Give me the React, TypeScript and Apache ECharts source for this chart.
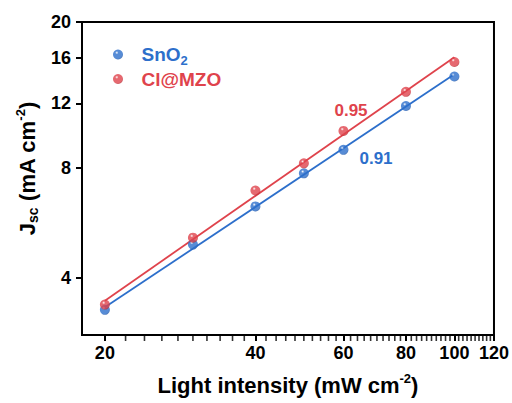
import React, { useEffect, useRef } from "react";
import * as echarts from "echarts";

// Light intensity (mW cm^-2) and short-circuit current density (mA cm^-2)
const intensity = [20, 30, 40, 50, 60, 80, 100];
const jscSnO2 = [3.28, 4.94, 6.28, 7.73, 8.96, 11.8, 14.2];
const jscClMZO = [3.39, 5.16, 6.94, 8.23, 10.09, 12.9, 15.56];

// Fitted power-law exponents (slope in log-log space): SnO2, Cl@MZO
const slopes = [0.91, 0.95];

// Axis ticks
const xMajorTicks = [20, 40, 60, 80, 100, 120];
const xMinorTicks = [
  22, 24, 26, 28, 30, 32, 34, 36, 38,
  42, 44, 46, 48, 50, 52, 54, 56, 58,
  62, 64, 66, 68, 70, 72, 74, 76, 78,
  82, 84, 86, 88, 90, 92, 94, 96, 98,
  102, 104, 106, 108, 110, 112, 114, 116, 118,
];
const yTicks = [4, 8, 12, 16, 20];

const X_MIN = 18;
const X_MAX = 120;
const Y_MIN = 2.8;
const Y_MAX = 20;

const BLUE = "#2d6fcb";
const RED = "#df434c";
const FONT = 'Arial, "Liberation Sans", sans-serif';

// Fit line y = a * x^b with a fixed exponent; intercept by least squares in log space
function fitLine(xs: number[], ys: number[], b: number): number[][] {
  let s = 0;
  for (let i = 0; i < xs.length; i++) s += Math.log10(ys[i]) - b * Math.log10(xs[i]);
  const logA = s / xs.length;
  const x0 = xs[0];
  const x1 = xs[xs.length - 1];
  return [x0, x1].map((x) => [x, Math.pow(10, logA + b * Math.log10(x))]);
}

function sphere(base: string, dark: string) {
  return {
    type: "radial",
    x: 0.38,
    y: 0.32,
    r: 0.75,
    colorStops: [
      { offset: 0, color: "#ffffff" },
      { offset: 0.22, color: base },
      { offset: 0.75, color: base },
      { offset: 1, color: dark },
    ],
  };
}

export default function App() {
  const ref = useRef<HTMLDivElement>(null);

  useEffect(() => {
    if (!ref.current) return;
    const chart = echarts.init(ref.current, undefined, { renderer: "svg" });

    const blueFit = fitLine(intensity, jscSnO2, slopes[0]);
    const redFit = fitLine(intensity, jscClMZO, slopes[1]);

    const tickLabel = { color: "#000", fontFamily: FONT, fontWeight: "bold", fontSize: 18 };
    const titleSup = {
      color: "#000",
      fontFamily: FONT,
      fontWeight: "bold",
      fontSize: 13,
      lineHeight: 13,
      verticalAlign: "top",
    };

    chart.setOption({
      animation: false,
      grid: {
        left: 82,
        right: 17,
        top: 22,
        bottom: 65,
        show: true,
        borderColor: "#000",
        borderWidth: 2,
      },
      legend: {
        orient: "vertical",
        left: 108,
        top: 40,
        itemWidth: 37,
        itemHeight: 10,
        itemGap: 3,
        selectedMode: false,
        data: [{ name: "SnO2" }, { name: "Cl@MZO" }],
        formatter: (name: string) =>
          name === "SnO2" ? "{b|SnO}{bs|2}" : "{r|Cl@MZO}",
        textStyle: {
          fontFamily: FONT,
          rich: {
            b: { color: BLUE, fontSize: 19, fontWeight: "bold", fontFamily: FONT, lineHeight: 24 },
            bs: {
              color: BLUE,
              fontSize: 13,
              fontWeight: "bold",
              fontFamily: FONT,
              lineHeight: 13,
              verticalAlign: "bottom",
            },
            r: { color: RED, fontSize: 19, fontWeight: "bold", fontFamily: FONT, lineHeight: 24 },
          },
        },
      },
      xAxis: {
        type: "log",
        logBase: 10,
        min: X_MIN,
        max: X_MAX,
        position: "bottom",
        splitLine: { show: false },
        axisLine: { lineStyle: { color: "#000", width: 2 } },
        axisTick: { customValues: xMajorTicks, length: 6, lineStyle: { color: "#000", width: 2 } },
        axisLabel: { customValues: xMajorTicks, margin: 9, ...tickLabel },
        name: "Light intensity (mW cm{sup|-2})",
        nameLocation: "middle",
        nameGap: 37,
        nameTextStyle: {
          color: "#000",
          fontFamily: FONT,
          fontWeight: "bold",
          fontSize: 22,
          lineHeight: 26,
          rich: { sup: titleSup },
        },
      },
      yAxis: {
        type: "log",
        logBase: 10,
        min: Y_MIN,
        max: Y_MAX,
        splitLine: { show: false },
        axisLine: { lineStyle: { color: "#000", width: 2 } },
        axisTick: { customValues: yTicks, length: 6, lineStyle: { color: "#000", width: 2 } },
        axisLabel: { customValues: yTicks, margin: 11, ...tickLabel },
        name: "J{sub|sc} (mA cm{sup|-2})",
        nameLocation: "middle",
        nameGap: 38,
        nameTextStyle: {
          color: "#000",
          fontFamily: FONT,
          fontWeight: "bold",
          fontSize: 22,
          lineHeight: 26,
          padding: [0, 0, 0, 20],
          rich: {
            sub: {
              color: "#000",
              fontFamily: FONT,
              fontWeight: "bold",
              fontSize: 14,
              lineHeight: 14,
              verticalAlign: "bottom",
            },
            sup: titleSup,
          },
        },
      },
      series: [
        {
          name: "SnO2 fit",
          type: "line",
          data: blueFit,
          showSymbol: false,
          lineStyle: { color: BLUE, width: 1.8 },
          z: 2,
        },
        {
          name: "Cl@MZO fit",
          type: "line",
          data: redFit,
          showSymbol: false,
          lineStyle: { color: RED, width: 1.8 },
          z: 2,
        },
        {
          name: "SnO2",
          type: "scatter",
          data: intensity.map((x, i) => [x, jscSnO2[i]]),
          symbol: "circle",
          symbolSize: 10,
          itemStyle: { color: sphere(BLUE, "#1d4f9c") },
          z: 3,
        },
        {
          name: "Cl@MZO",
          type: "scatter",
          data: intensity.map((x, i) => [x, jscClMZO[i]]),
          symbol: "circle",
          symbolSize: 10,
          itemStyle: { color: sphere(RED, "#a82a31") },
          z: 3,
        },
        {
          // minor ticks hanging below the bottom axis, every 2 mW cm^-2
          type: "scatter",
          clip: false,
          data: xMinorTicks.map((v) => [v, Y_MIN]),
          symbol: "rect",
          symbolSize: [1.6, 6],
          symbolOffset: [0, 3],
          itemStyle: { color: "#000" },
        },
      ],
      graphic: [
        {
          type: "text",
          x: 351,
          y: 110,
          style: {
            text: slopes[1].toFixed(2),
            fill: RED,
            font: `bold 17px ${FONT}`,
            textAlign: "center",
            textVerticalAlign: "middle",
          },
        },
        {
          type: "text",
          x: 376,
          y: 158,
          style: {
            text: slopes[0].toFixed(2),
            fill: BLUE,
            font: `bold 17px ${FONT}`,
            textAlign: "center",
            textVerticalAlign: "middle",
          },
        },
      ],
    });

    return () => chart.dispose();
  }, []);

  return (
    <div
      ref={ref}
      style={{ position: "fixed", left: 0, top: 0, width: 512, height: 403, background: "#fff" }}
    />
  );
}
